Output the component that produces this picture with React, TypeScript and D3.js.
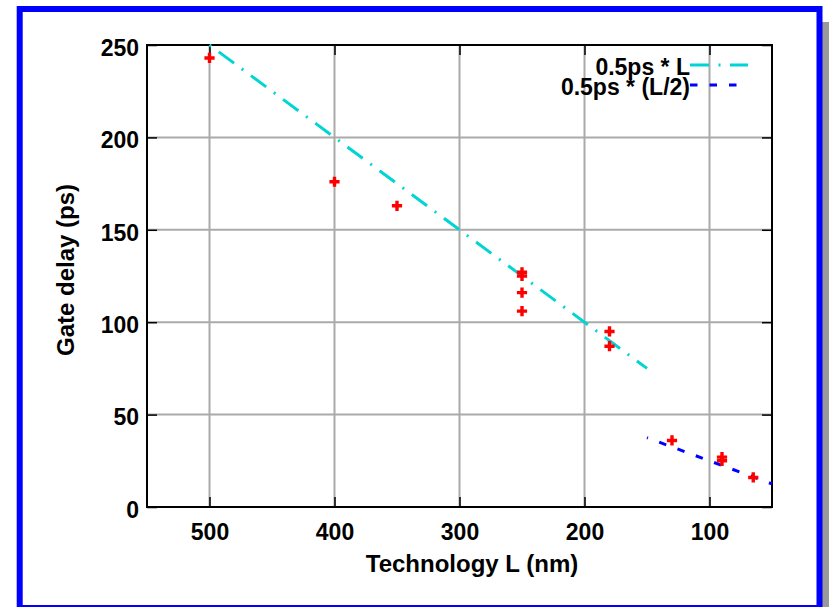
import React, { useEffect, useRef } from "react";
import * as d3 from "d3";

// measured points: technology node (nm) vs gate delay (ps)
const techL = [500, 400, 350, 250, 250, 250, 250, 180, 180, 130, 90, 90, 65];
const gateDelay = [243, 176, 163, 127, 125, 116, 106, 95, 87, 36, 27, 25, 16];

// fit lines
const fitL_full = [500, 150];
const fitDelay_full = [250, 75];
const fitL_half = [150, 50];
const fitDelay_half = [37.5, 12.5];

const xTicks = [500, 400, 300, 200, 100];
const yTicks = [0, 50, 100, 150, 200, 250];

const legendLabels = ["0.5ps * L", "0.5ps * (L/2)"];

const FONT = "'Liberation Sans', Arial, Helvetica, sans-serif";

export default function App() {
  const ref = useRef<SVGSVGElement>(null);

  useEffect(() => {
    const svg = d3.select(ref.current);
    svg.selectAll("*").remove();

    const left = 147, right = 772, top = 45, bottom = 507;

    const x = d3.scaleLinear().domain([550, 50]).range([left, right]);
    const y = d3.scaleLinear().domain([0, 250]).range([bottom, top]);

    // page frame
    svg.append("rect").attr("x", 822).attr("y", 22).attr("width", 7).attr("height", 585).attr("fill", "#999");
    svg.append("rect").attr("x", 19.7).attr("y", 9).attr("width", 799.8).attr("height", 599)
      .attr("fill", "white").attr("stroke", "#0000ff").attr("stroke-width", 6);

    // grid
    const grid = svg.append("g");
    grid.selectAll(".gx").data(xTicks).enter().append("line")
      .attr("x1", d => x(d)).attr("x2", d => x(d))
      .attr("y1", top).attr("y2", bottom)
      .attr("stroke", "#aaaaaa").attr("stroke-width", 2);
    grid.selectAll(".gy").data(yTicks.slice(1, -1)).enter().append("line")
      .attr("x1", left).attr("x2", right)
      .attr("y1", d => y(d)).attr("y2", d => y(d))
      .attr("stroke", "#aaaaaa").attr("stroke-width", 2);

    const styleAxis = (g: any) => {
      g.select(".domain").remove();
      g.selectAll("line").attr("stroke", "black").attr("stroke-width", 1.5);
      g.selectAll("text")
        .attr("font-family", FONT).attr("font-size", 23).attr("font-weight", "bold").attr("fill", "black");
    };

    svg.append("g").attr("transform", `translate(0,${bottom})`)
      .call(d3.axisBottom(x).tickValues(xTicks).tickSize(-10).tickPadding(17))
      .call(styleAxis);
    svg.append("g").attr("transform", `translate(0,${top})`)
      .call(d3.axisTop(x).tickValues(xTicks).tickSize(-10).tickFormat(() => ""))
      .call(styleAxis);
    svg.append("g").attr("transform", `translate(${left},0)`)
      .call(d3.axisLeft(y).tickValues(yTicks).tickSize(-10).tickPadding(8))
      .call(styleAxis)
      .selectAll("text").attr("dy", "0.45em");
    svg.append("g").attr("transform", `translate(${right},0)`)
      .call(d3.axisRight(y).tickValues(yTicks).tickSize(-10).tickFormat(() => ""))
      .call(styleAxis);

    // plot frame
    svg.append("rect").attr("x", left).attr("y", top)
      .attr("width", right - left).attr("height", bottom - top)
      .attr("fill", "none").attr("stroke", "black").attr("stroke-width", 2);

    const line = d3.line<[number, number]>().x(d => x(d[0])).y(d => y(d[1]));

    svg.append("path")
      .attr("d", line(d3.zip(fitL_full, fitDelay_full) as [number, number][]))
      .attr("fill", "none").attr("stroke", "#00d4d4").attr("stroke-width", 3)
      .attr("stroke-dasharray", "19,9.5,2,9.5").attr("stroke-dashoffset", 28.5);

    svg.append("path")
      .attr("d", line(d3.zip(fitL_half, fitDelay_half) as [number, number][]))
      .attr("fill", "none").attr("stroke", "#0000ff").attr("stroke-width", 3)
      .attr("stroke-dasharray", "7.5,12").attr("stroke-dashoffset", 6.5);

    // points
    const cross = d3.symbol().type(d3.symbolCross).size(58);
    svg.append("g").selectAll("path").data(techL).enter().append("path")
      .attr("d", cross)
      .attr("transform", (d, i) => `translate(${x(d)},${y(gateDelay[i])})`)
      .attr("fill", "#ff0000");

    // legend
    const legend = svg.append("g");
    const legendStyles = [
      { stroke: "#00d4d4", dash: "19,9.5,2,9.5" },
      { stroke: "#0000ff", dash: "7.5,12" },
    ];
    legendLabels.forEach((label, i) => {
      const ly = 65 + i * 20;
      legend.append("line").attr("x1", 690).attr("x2", 748).attr("y1", ly).attr("y2", ly)
        .attr("stroke", legendStyles[i].stroke).attr("stroke-width", 3)
        .attr("stroke-dasharray", legendStyles[i].dash);
      legend.append("text").attr("x", 690).attr("y", ly + 10).attr("text-anchor", "end")
        .attr("font-family", FONT).attr("font-size", 23).attr("font-weight", "bold")
        .text(label);
    });

    // axis titles
    svg.append("text").attr("x", 472).attr("y", 572).attr("text-anchor", "middle")
      .attr("font-family", FONT).attr("font-size", 24).attr("font-weight", "bold")
      .text("Technology L (nm)");
    svg.append("text").attr("transform", "translate(74,270) rotate(-90)").attr("text-anchor", "middle")
      .attr("font-family", FONT).attr("font-size", 24).attr("font-weight", "bold")
      .text("Gate delay (ps)");
  }, []);

  return (
    <svg
      ref={ref}
      width={829}
      height={607}
      style={{ position: "absolute", left: 0, top: 0, display: "block", background: "white" }}
    />
  );
}
